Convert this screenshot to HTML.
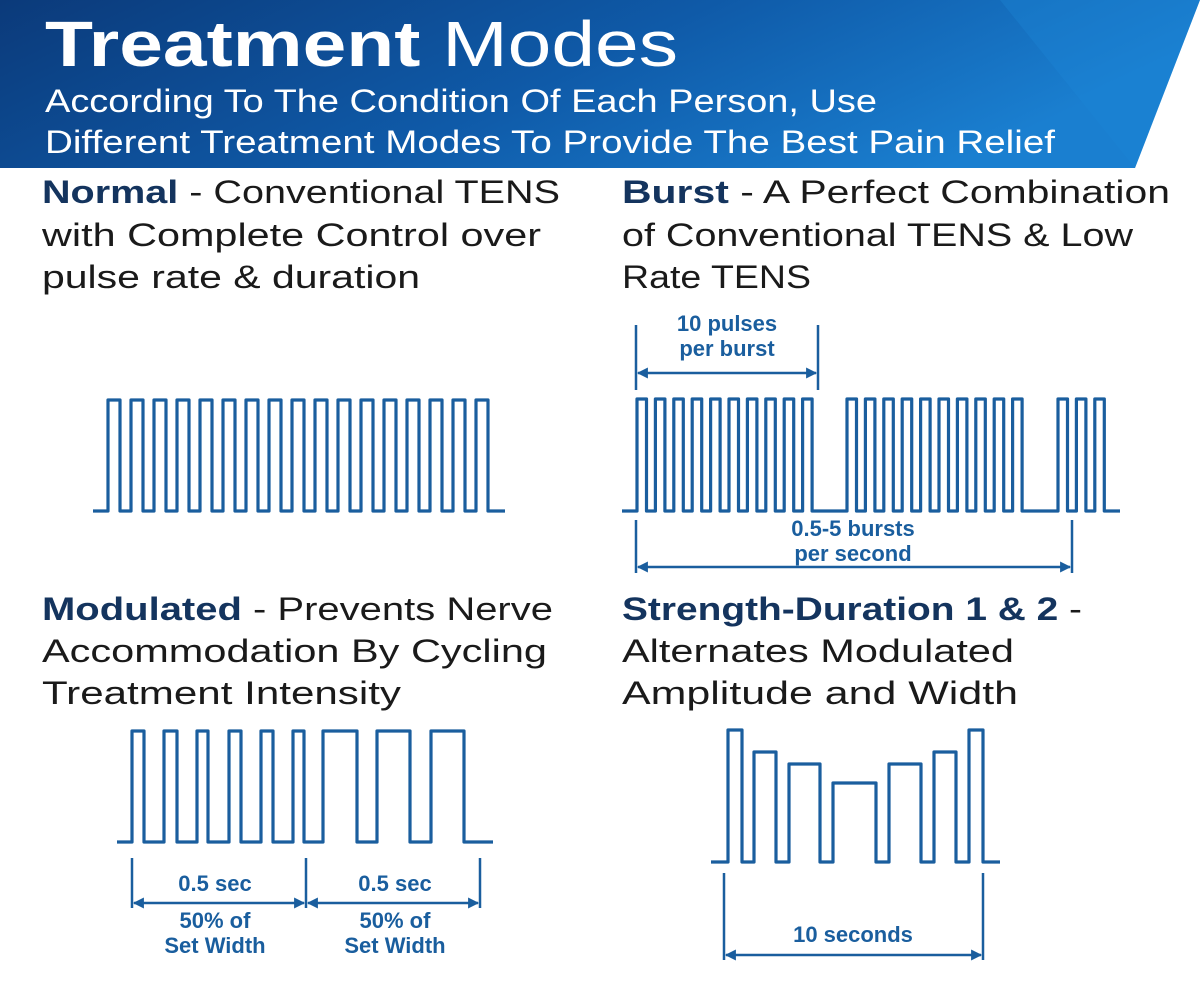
<!DOCTYPE html>
<html><head><meta charset="utf-8"><style>
html,body{margin:0;padding:0;background:#fff;}
svg{display:block;}
</style></head><body>
<svg width="1200" height="984" viewBox="0 0 1200 984" xmlns="http://www.w3.org/2000/svg" font-family="'Liberation Sans', sans-serif">
<defs>
<linearGradient id="hg" x1="0" y1="0" x2="1" y2="0.3">
<stop offset="0" stop-color="#0b3a7a"/><stop offset="0.55" stop-color="#0f5aa8"/><stop offset="1" stop-color="#1a7fd0"/>
</linearGradient>
<marker id="ar" viewBox="0 0 10 10" refX="9" refY="5" markerWidth="13" markerHeight="11" orient="auto-start-reverse" markerUnits="userSpaceOnUse">
<path d="M0,0 L10,5 L0,10 z" fill="#1a5e9e"/></marker>
</defs>
<polygon points="0,0 1200,0 1135,168 0,168" fill="url(#hg)"/>
<polygon points="1000,0 1200,0 1135,168" fill="#1e86d6" opacity="0.35"/>
<text x="45" y="66" fill="#fff" font-size="64" textLength="633" lengthAdjust="spacingAndGlyphs"><tspan font-weight="bold">Treatment</tspan> Modes</text>
<text x="45" y="112" fill="#fff" font-size="32" textLength="832" lengthAdjust="spacingAndGlyphs">According To The Condition Of Each Person, Use</text>
<text x="45" y="153" fill="#fff" font-size="32" textLength="1010" lengthAdjust="spacingAndGlyphs">Different Treatment Modes To Provide The Best Pain Relief</text>

<g font-size="32" fill="#1a1a1a">
<text x="42" y="203" textLength="518" lengthAdjust="spacingAndGlyphs"><tspan fill="#14345e" font-weight="bold">Normal</tspan> - Conventional TENS</text>
<text x="42" y="246" textLength="499" lengthAdjust="spacingAndGlyphs">with Complete Control over</text>
<text x="42" y="288" textLength="378" lengthAdjust="spacingAndGlyphs">pulse rate &amp; duration</text>
<text x="622" y="203" textLength="548" lengthAdjust="spacingAndGlyphs"><tspan fill="#14345e" font-weight="bold">Burst</tspan> - A Perfect Combination</text>
<text x="622" y="246" textLength="511" lengthAdjust="spacingAndGlyphs">of Conventional TENS &amp; Low</text>
<text x="622" y="288" textLength="189" lengthAdjust="spacingAndGlyphs">Rate TENS</text>
<text x="42" y="620" textLength="511" lengthAdjust="spacingAndGlyphs"><tspan fill="#14345e" font-weight="bold">Modulated</tspan> - Prevents Nerve</text>
<text x="42" y="662" textLength="505" lengthAdjust="spacingAndGlyphs">Accommodation By Cycling</text>
<text x="42" y="704" textLength="359" lengthAdjust="spacingAndGlyphs">Treatment Intensity</text>
<text x="622" y="620" textLength="460" lengthAdjust="spacingAndGlyphs"><tspan fill="#14345e" font-weight="bold">Strength-Duration 1 &amp; 2</tspan> -</text>
<text x="622" y="662" textLength="392" lengthAdjust="spacingAndGlyphs">Alternates Modulated</text>
<text x="622" y="704" textLength="396" lengthAdjust="spacingAndGlyphs">Amplitude and Width</text>
</g>

<g fill="none" stroke="#1a5e9e" stroke-width="3.2" stroke-linejoin="round">
<path d="M93,511 H108 V400 H120 V511 H131 V400 H143 V511 H154 V400 H166 V511 H177 V400 H189 V511 H200 V400 H212 V511 H223 V400 H235 V511 H246 V400 H258 V511 H269 V400 H281 V511 H292 V400 H304 V511 H315 V400 H327 V511 H338 V400 H350 V511 H361 V400 H373 V511 H384 V400 H396 V511 H407 V400 H419 V511 H430 V400 H442 V511 H453 V400 H465 V511 H476 V400 H488 V511 H505"/>
<path d="M622,511 H637 V399 H646.5 V511 H655.4 V399 H664.9 V511 H673.8 V399 H683.3 V511 H692.2 V399 H701.7 V511 H710.6 V399 H720.1 V511 H729 V399 H738.5 V511 H747.4 V399 H756.9 V511 H765.8 V399 H775.3 V511 H784.2 V399 H793.7 V511 H802.6 V399 H812.1 V511 H847 V399 H856.5 V511 H865.4 V399 H874.9 V511 H883.8 V399 H893.3 V511 H902.2 V399 H911.7 V511 H920.6 V399 H930.1 V511 H939 V399 H948.5 V511 H957.4 V399 H966.9 V511 H975.8 V399 H985.3 V511 H994.2 V399 H1003.7 V511 H1012.6 V399 H1022.1 V511 H1058 V399 H1067.5 V511 H1076.4 V399 H1085.9 V511 H1094.8 V399 H1104.3 V511 H1120"/>
<path d="M117,842 H132 V731 H144 V842 H164 V731 H177 V842 H197 V731 H208 V842 H229 V731 H241 V842 H261 V731 H273 V842 H293 V731 H304 V842 H323 V731 H357 V842 H377 V731 H410 V842 H431 V731 H464 V842 H493"/>
<path d="M711,862 H728 V730 H742 V862 H754 V752 H776 V862 H789 V764 H820 V862 H833 V783 H876 V862 H889 V764 H921 V862 H934 V752 H956 V862 H969 V730 H983 V862 H1000"/>
</g>

<g stroke="#1a5e9e" stroke-width="2.5" fill="none">
<line x1="636" y1="325" x2="636" y2="390"/><line x1="818" y1="325" x2="818" y2="390"/>
<line x1="638" y1="373" x2="816" y2="373" marker-start="url(#ar)" marker-end="url(#ar)"/>
<line x1="636" y1="520" x2="636" y2="573"/><line x1="1072" y1="520" x2="1072" y2="573"/>
<line x1="638" y1="567" x2="1070" y2="567" marker-start="url(#ar)" marker-end="url(#ar)"/>
<line x1="132" y1="858" x2="132" y2="908"/><line x1="306" y1="858" x2="306" y2="908"/><line x1="480" y1="858" x2="480" y2="908"/>
<line x1="134" y1="903" x2="304" y2="903" marker-start="url(#ar)" marker-end="url(#ar)"/>
<line x1="308" y1="903" x2="478" y2="903" marker-start="url(#ar)" marker-end="url(#ar)"/>
<line x1="724" y1="873" x2="724" y2="960"/><line x1="983" y1="873" x2="983" y2="960"/>
<line x1="726" y1="955" x2="981" y2="955" marker-start="url(#ar)" marker-end="url(#ar)"/>
</g>
<g fill="#1a5e9e" font-size="22" font-weight="bold" text-anchor="middle">
<text x="727" y="331">10 pulses</text>
<text x="727" y="356">per burst</text>
<text x="853" y="536">0.5-5 bursts</text>
<text x="853" y="561">per second</text>
<text x="215" y="891">0.5 sec</text>
<text x="215" y="928">50% of</text>
<text x="215" y="953">Set Width</text>
<text x="395" y="891">0.5 sec</text>
<text x="395" y="928">50% of</text>
<text x="395" y="953">Set Width</text>
<text x="853" y="942">10 seconds</text>
</g>
</svg>
</body></html>
